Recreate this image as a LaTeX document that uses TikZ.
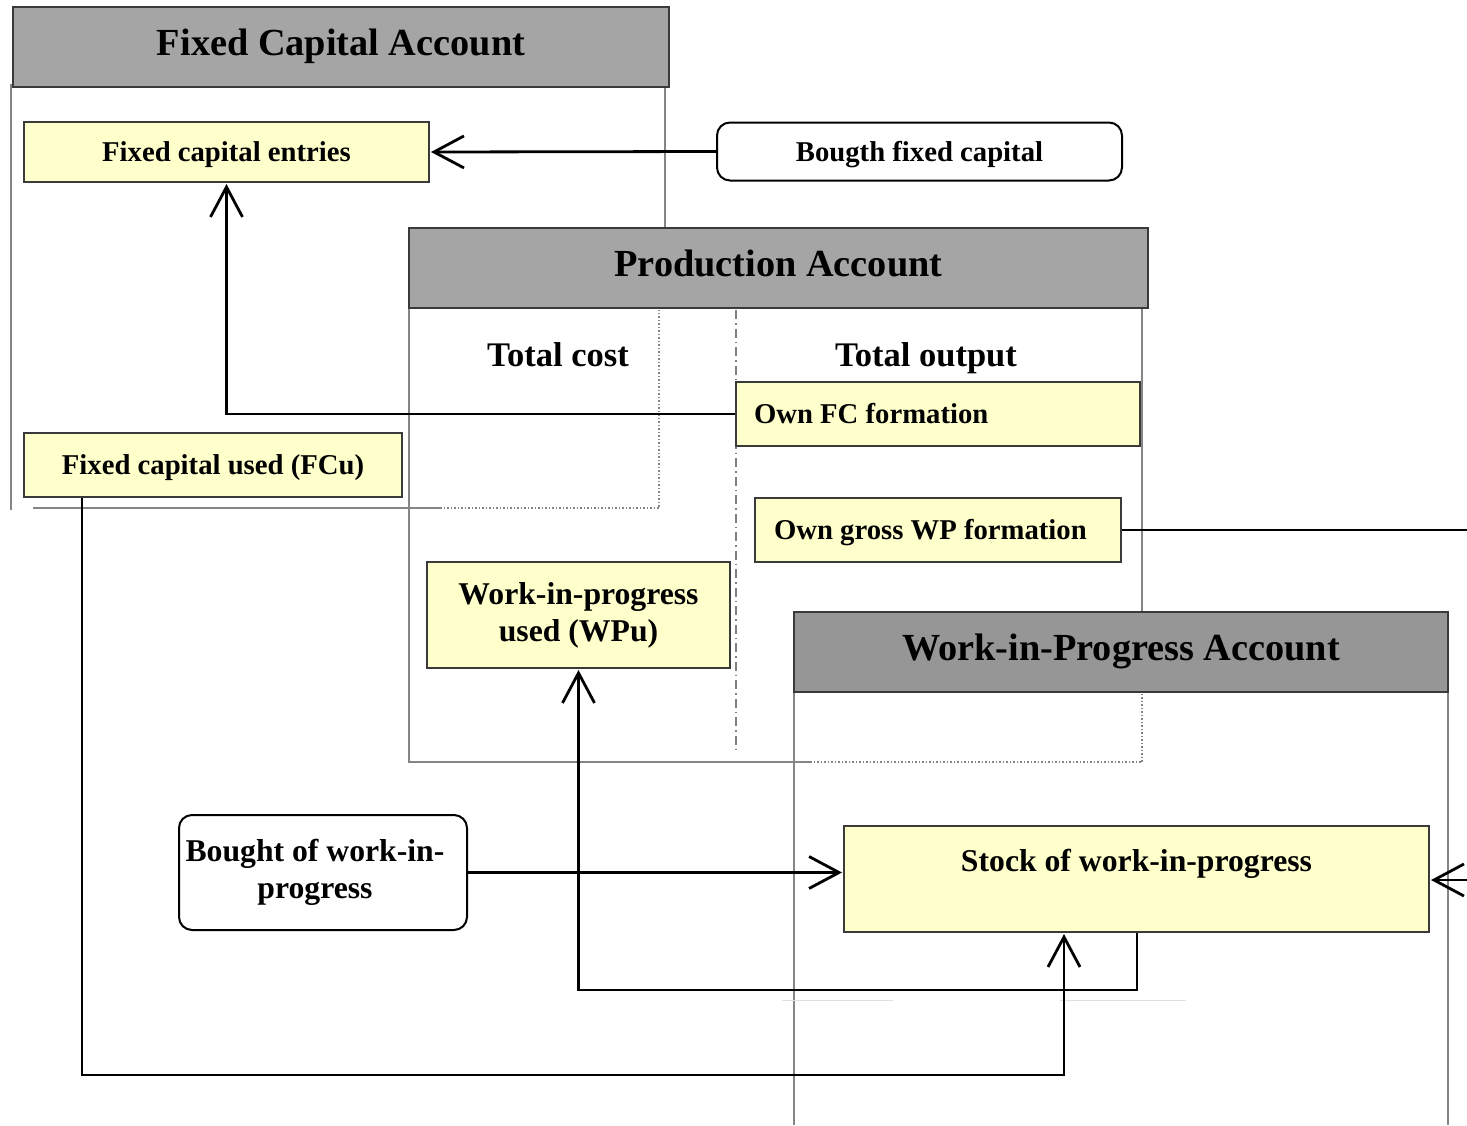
\documentclass[tikz,border=0pt]{standalone}
\usepackage{fontspec}
\setmainfont{Liberation Serif}
\usetikzlibrary{arrows.meta}
\definecolor{boxfill}{HTML}{FFFFCC}
\definecolor{hdrfill}{HTML}{A5A5A5}
\definecolor{hdrfillb}{HTML}{969696}
\definecolor{edgec}{HTML}{3A3A3A}
\definecolor{panelc}{HTML}{858585}
\begin{document}
\begin{tikzpicture}[x=1pt,y=-1pt,
  hdr/.style={draw=edgec, line width=2pt, fill=hdrfill, inner sep=0pt, minimum height=80pt, text height=18.4pt, text depth=1pt, font=\fontsize{38.3}{44}\selectfont\bfseries},
  ybox/.style={draw=edgec, line width=2pt, fill=boxfill, inner sep=0pt, font=\fontsize{28.7}{34}\selectfont\bfseries},
  sline/.style={text height=20pt, text depth=1pt},
  tline/.style={text height=23.8pt, text depth=1pt, font=\fontsize{34.5}{40}\selectfont\bfseries},
  mfont/.style={font=\fontsize{31.7}{37}\selectfont\bfseries},
  rbox/.style={draw=black, line width=2pt, fill=white, rounded corners=13pt, inner sep=0pt},
  pline/.style={draw=panelc, line width=2pt},
  dotline/.style={draw=panelc, line width=1.5pt, dash pattern=on 1.5pt off 2pt},
  conn/.style={draw=black, line width=2.8pt},
  arr/.style={-{Straight Barb[length=30pt,width=32pt,line width=2.8pt]}, shorten >=1pt}
]
\useasboundingbox (0,0) rectangle (1467,1125);
\clip (0,0) rectangle (1467,1125);

% ---- panel frames ----
\draw[pline] (11,84) -- (11,510);
\draw[pline] (665,87) -- (665,228);
\draw[pline] (33,508) -- (440,508);
\draw[dotline] (440,508) -- (659,508) -- (659,310);
\draw[pline] (409,308) -- (409,762) -- (810,762);
\draw[dotline] (810,762) -- (1142,762) -- (1142,692);
\draw[pline] (1142,308) -- (1142,612);
\draw[draw=gray, line width=1.5pt, dash pattern=on 9pt off 4pt on 1.5pt off 4pt] (736,310) -- (736,750);
\draw[pline] (794,692) -- (794,1125);
\draw[pline] (1448,692) -- (1448,1125);
\draw[black!12, line width=1pt] (782,1000) -- (893,1000);
\draw[black!12, line width=1pt] (1060,1000) -- (1186,1000);

% ---- headers ----
\node[hdr, minimum width=656pt] (fch) at (341,47) {Fixed Capital Account};
\node[hdr, minimum width=739pt] (pah) at (778.5,268) {Production Account};
\node[hdr, fill=hdrfillb, minimum width=654pt] (wph) at (1121,652) {Work-in-Progress Account};

% ---- column titles ----
\node[tline] (tc) at (558,355) {Total cost};
\node[tline] (to) at (926,355) {Total output};

% ---- boxes ----
\node[ybox, sline, minimum width=405pt, minimum height=60pt] (fce) at (226.5,152) {Fixed capital entries};
\node[rbox, sline, font=\fontsize{28.7}{34}\selectfont\bfseries, minimum width=405pt, minimum height=58pt] (bfc) at (919.5,151.5) {Bougth fixed capital};
\node[ybox, sline, inner xsep=18pt, text width=368pt, align=flush left, minimum height=64pt] (ownfc) at (938,414) {Own FC formation};
\node[ybox, sline, minimum width=378pt, minimum height=64pt] (fcu) at (213,465) {Fixed capital used (FCu)};
\node[ybox, sline, inner xsep=19pt, text width=328pt, align=flush left, minimum height=64pt] (owngwp) at (938,530) {Own gross WP formation};
\node[ybox, mfont, align=center, minimum width=303pt, minimum height=106pt] (wpu) at (578.5,615) {Work-in-progress\\used (WPu)};
\node[rbox, mfont, align=center, minimum width=288pt, minimum height=115pt] (bwip) at (323,872.5) {\hspace*{-16pt}Bought of work-in-\\\hspace*{-16pt}progress};
\node[ybox, mfont, align=center, minimum width=585pt, minimum height=106pt] (stock) at (1136.5,879) {Stock of work-in-progress\\\mbox{}};

% ---- helper coordinates ----
\coordinate (wpout) at (1470,530);
\coordinate (stin) at (1475,880);
\coordinate (fcx) at (82,0);
\coordinate (fcbot) at (82,1075);
\coordinate (stx) at (1064,0);
\coordinate (stbot) at (1137,990);

% ---- connectors ----
\draw[conn, arr] (bfc.west) -- (fce.east);
\draw[conn, arr] (ownfc.west) -| (fce.south);
\draw[conn] (owngwp.east) -- (wpout);
\draw[conn, arr] (stin) -- (stock.east |- stin);
\draw[conn, arr] (bwip.east) -- (stock.west |- bwip.east);
\draw[conn, arr] (stock.south -| stbot) -- (stbot) -| (wpu.south);
\draw[conn, arr] (fcu.south -| fcx) -- (fcbot) -| (stock.south -| stx);
\end{tikzpicture}
\end{document}
